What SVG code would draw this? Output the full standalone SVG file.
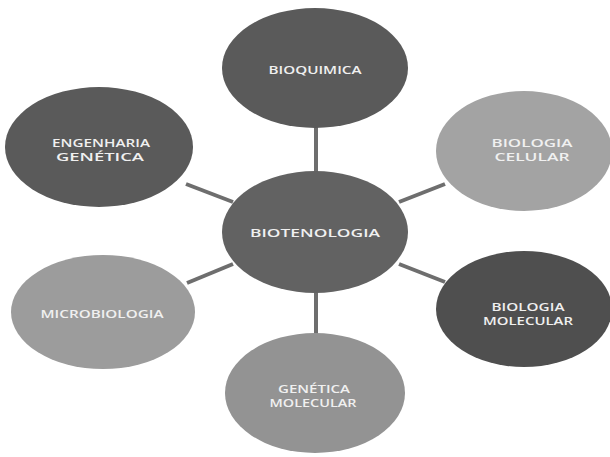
<svg xmlns="http://www.w3.org/2000/svg" width="610" height="457" viewBox="0 0 610 457">
  <style>
    .dark { fill: #5a5a5a; }
    .darker { fill: #4f4f4f; }
    .mid { fill: #626262; }
    .light { fill: #9c9c9c; }
    .lighter { fill: #a3a3a3; }
    .light2 { fill: #939393; }
    .lbl { font-family: "Open Sans", "DejaVu Sans", sans-serif; font-weight: 600; font-size: 11.5px; fill: #f0f0f0; text-anchor: middle; }
    .conn line { stroke: #6e6e6e; stroke-width: 4; }
  </style>
  <rect width="610" height="457" fill="#ffffff"/>

  <g id="connectors" class="conn">
    <line x1="316" y1="127" x2="316" y2="172"/>
    <line x1="186" y1="184" x2="233" y2="202"/>
    <line x1="399" y1="202" x2="445" y2="184"/>
    <line x1="187" y1="283" x2="233" y2="264"/>
    <line x1="399" y1="264" x2="445" y2="282"/>
    <line x1="316" y1="292" x2="316" y2="334"/>
  </g>

  <g id="bioquimica">
    <ellipse class="dark" cx="315" cy="68" rx="93" ry="60"/>
    <text class="lbl" x="315" y="74" textLength="93" lengthAdjust="spacingAndGlyphs">BIOQUIMICA</text>
  </g>

  <g id="engenharia-genetica">
    <ellipse class="dark" cx="99" cy="147" rx="94" ry="60"/>
    <text class="lbl" x="101" y="146.5" font-size="10" textLength="98" lengthAdjust="spacingAndGlyphs">ENGENHARIA</text>
    <text class="lbl" x="100" y="160.5" font-size="10" textLength="88" lengthAdjust="spacingAndGlyphs">GENÉTICA</text>
  </g>

  <g id="biologia-celular">
    <ellipse class="lighter" cx="524" cy="151" rx="88" ry="60"/>
    <text class="lbl" x="532" y="147" textLength="81" lengthAdjust="spacingAndGlyphs">BIOLOGIA</text>
    <text class="lbl" x="532" y="161" textLength="75" lengthAdjust="spacingAndGlyphs">CELULAR</text>
  </g>

  <g id="biotenologia">
    <ellipse class="mid" cx="315" cy="232" rx="93" ry="61"/>
    <text class="lbl" x="315" y="237" font-size="12.5" textLength="130" lengthAdjust="spacingAndGlyphs">BIOTENOLOGIA</text>
  </g>

  <g id="microbiologia">
    <ellipse class="light" cx="103" cy="312" rx="92" ry="57"/>
    <text class="lbl" x="102" y="318" textLength="123" lengthAdjust="spacingAndGlyphs">MICROBIOLOGIA</text>
  </g>

  <g id="biologia-molecular">
    <ellipse class="darker" cx="524" cy="309" rx="88" ry="58"/>
    <text class="lbl" x="528" y="311" textLength="73" lengthAdjust="spacingAndGlyphs">BIOLOGIA</text>
    <text class="lbl" x="528" y="324.5" textLength="90" lengthAdjust="spacingAndGlyphs">MOLECULAR</text>
  </g>

  <g id="genetica-molecular">
    <ellipse class="light2" cx="315" cy="393" rx="90" ry="60"/>
    <text class="lbl" x="314" y="393" textLength="72" lengthAdjust="spacingAndGlyphs">GENÉTICA</text>
    <text class="lbl" x="313" y="407" textLength="87" lengthAdjust="spacingAndGlyphs">MOLECULAR</text>
  </g>
</svg>
